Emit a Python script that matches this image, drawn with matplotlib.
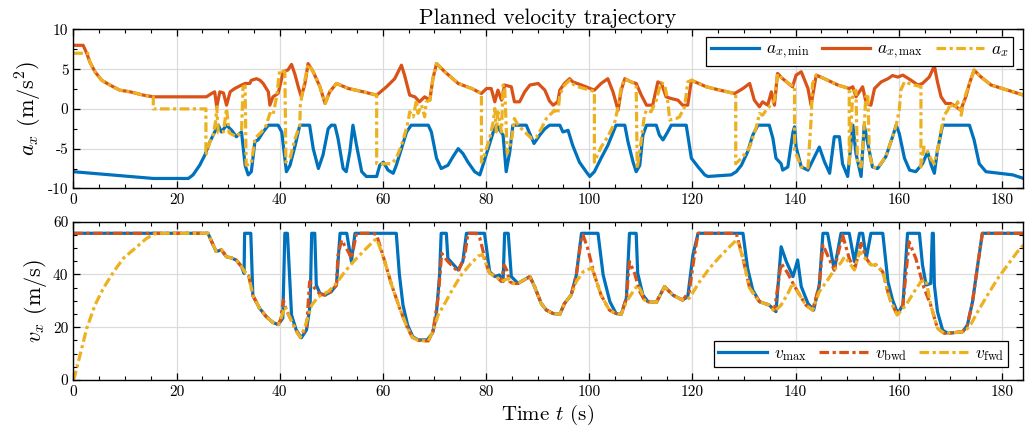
import matplotlib
matplotlib.use("Agg")
import matplotlib.pyplot as plt
from matplotlib.ticker import MultipleLocator

plt.rcParams['font.family'] = 'serif'
plt.rcParams['font.serif'] = ['cmr10']
plt.rcParams['mathtext.fontset'] = 'cm'
plt.rcParams['axes.unicode_minus'] = False
plt.rcParams['axes.formatter.use_mathtext'] = True

# MATLAB default colour order
c_blue = '#0072BD'
c_red = '#D95319'
c_yel = '#EDB120'

# ---- acceleration limits and planned acceleration ----
t_amin = [0, 15.5, 22.3, 23.2, 24.5, 25.5, 26.5, 27.4, 28.1, 28.7, 29.7, 30.7, 31.6, 32.6,
          33.3, 33.9, 34.5, 35.2, 35.8, 36.8, 37.8, 39.7, 40.4, 41.3, 42, 43, 43.9, 44.9,
          45.8, 46.5, 47.5, 48.4, 49.4, 50, 50.7, 51.3, 52.3, 52.9, 53.6, 54.2, 54.9, 55.9,
          56.8, 58.8, 59.4, 60.1, 61, 62, 62.6, 63.6, 64.6, 65.5, 68.8, 69.4, 70.4, 71.3,
          72.6, 73.6, 74.6, 75.5, 76.5, 77.8, 78.8, 79.4, 80.4, 81.4, 82, 83.3, 83.9, 84.6,
          85.2, 87.8, 88.6, 89.3, 90.4, 91.4, 92.3, 94.3, 94.9, 95.9, 96.8, 98.1, 99.4,
          100.1, 101, 102.3, 103.6, 104.9, 105.2, 106.9, 107.5, 108.5, 109.1, 109.8, 110.4,
          111.1, 113, 113.6, 114.3, 115.2, 115.9, 118.8, 119.8, 121.1, 122.4, 123, 127.5,
          128.5, 129.5, 130.7, 131.7, 132.7, 134.9, 135.6, 136.2, 137.2, 137.5, 138.5,
          139.5, 139.8, 140.1, 141.1, 142.4, 143.7, 144.6, 145.6, 146.6, 147.5, 148.5,
          149.1, 150.1, 151.1, 151.7, 152.7, 153.3, 154, 154.9, 155.9, 157.5, 158.8, 159.5,
          160.1, 161.1, 162.1, 163.3, 164.6, 165.6, 166.3, 166.9, 167.5, 168.5, 173.7,
          174.6, 175.6, 176.9, 179.5, 182.1, 184.2]
a_min = [-7.9, -8.75, -8.75, -8.3, -7.08, -5.8, -4.1, -2.9, -2.05, -2.9, -2.05, -2.7, -3.5, -2.9,
         -7.1, -8.3, -7.9, -4.1, -3.9, -2.9, -2.05, -2.05, -2.9, -7.9, -7.1, -4.6, -2.05, -2.05,
         -2.05, -5.0, -7.5, -5.8, -2.5, -2.05, -2.05, -3.7, -7.5, -7.9, -5.4, -2.05, -4.6, -7.9,
         -8.5, -8.5, -7.08, -6.7, -7.7, -8.1, -7.1, -5.0, -2.9, -2.05, -2.05, -2.9, -6.2, -7.5,
         -7.1, -6.0, -5.0, -5.6, -6.7, -7.9, -8.3, -7.08, -5.0, -2.9, -2.05, -3.3, -7.9, -5.4,
         -2.05, -2.05, -3.3, -4.35, -3.3, -2.5, -2.05, -2.05, -2.9, -2.7, -4.6, -6.7, -7.9,
         -8.5, -7.9, -6.2, -4.6, -2.5, -2.05, -2.05, -4.1, -6.7, -7.9, -7.1, -3.3,
         -2.05, -2.05, -3.3, -3.9, -2.9, -2.05, -2.05, -6.2, -7.3, -8.3, -8.5, -8.3,
         -7.9, -7.08, -5.4, -3.3, -2.05, -2.05, -3.7, -6.2, -6.9, -7.7, -7.3,
         -2.9, -2.25, -4.8, -7.3, -7.7, -6.0, -4.8, -6.65, -8.1, -3.5, -3.5,
         -6.9, -8.5, -2.05, -5.6, -8.5, -2.05, -4.35, -7.3, -7.5, -6.0, -3.5, -2.05,
         -3.1, -6.2, -7.7, -7.9, -6.9, -5.4, -7.1, -8.1, -5.2, -2.05, -2.05,
         -3.9, -6.9, -7.9, -8.1, -8.3, -8.75]

t_amax = [0, 1.9, 2.6, 3.2, 4.2, 5.5, 7.1, 9.0, 11, 13.6, 15.5, 25.8, 26.8, 27.4, 27.8, 28.4,
          29.1, 29.7, 30.4, 31.3, 32.6, 33.3, 34.2, 34.5, 35.5, 36.2, 36.8, 37.8, 38.1, 38.7,
          39.7, 40.7, 41.6, 42.3, 43, 43.6, 44.2, 44.9, 45.5, 46.5, 47.8, 48.8, 49.7, 51,
          53.3, 56.2, 58.8, 60.7, 62.3, 63.6, 64.2, 65.2, 66.2, 67.1, 68.1, 69.1, 69.7, 70.4,
          72, 74.6, 77.2, 79.1, 80.1, 81, 81.7, 82.3, 83, 83.6, 84.9, 85.5, 86.5, 87.5, 88.5,
          90.1, 91.4, 92.3, 93, 93.9, 94.3, 95.2, 96.2, 96.8, 98.5, 101, 102.3, 103.6, 104.6,
          105.6, 106.2, 106.9, 108.1, 109.1, 110.1, 111.1, 112.3, 113.3, 114, 114.9, 115.9,
          117.2, 118.1, 119.1, 119.8, 122.7, 125.3, 128.2, 129.8, 131.1, 132, 133, 133.6,
          134.6, 135.3, 135.9, 136.5, 137.5, 139.4, 140.1, 141.1, 142.4, 143, 144, 145.6,
          148.2, 150.4, 151.1, 151.7, 153, 153.7, 154.6, 155.3, 156.6, 157.9, 158.8, 159.8,
          160.8, 162.4, 163.7, 164.6, 165.9, 166.9, 167.5, 168.2, 169.1, 170.1, 171.1, 172,
          173, 173.7, 174.6, 175.9, 177.9, 181.1, 184.2]
a_max = [8.0, 8.0, 7.0, 5.9, 4.67, 3.6, 3.0, 2.36, 2.15, 1.73, 1.52, 1.52, 1.94, 2.15, 0.26, 2.15,
         2.0, 0.47, 2.15, 2.57, 3.0, 3.2, 3.2, 3.6, 3.8, 3.6, 3.2, 2.15, 0.47, 1.52,
         1.94, 4.67, 4.9, 5.6, 4.25, 2.78, 1.52, 3.2, 5.7, 4.67, 2.78, 0.68, 2.15, 3.2,
         2.57, 2.15, 1.73, 2.78, 3.8, 5.5, 4.25, 1.73, 1.52, 0.89, 1.52, 1.1, 3.8, 5.7,
         4.67, 3.2, 2.57, 1.94, 2.57, 2.57, 0.89, 2.36, 1.1, 3.0, 2.78, 0.89, 0.89, 2.15, 3.0,
         3.2, 2.36, 1.0, 0.47, 0.89, 2.36, 3.2, 3.8, 3.4, 3.0, 2.36, 3.2, 3.8, 2.15,
         -0.16, 2.36, 3.8, 3.4, 3.2, 1.73, 0.47, 0.47, 3.4, 3.2, 1.52, 1.3,
         1.1, 0.47, 0.47, 3.6, 2.78, 2.36, 1.94, 2.57, 3.2, 1.1, 0.26, 0.89,
         0.47, 2.15, 0.47, 4.46, 3.8, 2.78, 4.25, 4.67, 2.57, 0.47, 4.25, 3.8,
         3.0, 2.57, 2.78, 1.52, 2.78, 0.68, 0.47, 2.57, 3.4, 3.8, 4.2, 4.0,
         4.25, 3.6, 3.0, 3.2, 4.0, 5.4, 3.4, 1.52, 0.68, 0.68, 0.26, -0.16,
         1.52, 3.2, 4.88, 4.04, 3.0, 2.36, 1.73]

t_ax = [0, 2.8, 3.2, 4.2, 5.5, 7.1, 9.0, 11, 13.6, 15.5, 15.5, 25.7, 25.7, 26.5, 27.1, 27.6, 27.8,
        28.1, 29.1, 29.7, 30.2, 31.6, 32.6, 32.9, 33.3, 33.5, 34.5, 35.2, 36.5, 37.4, 38.1,
        38.7, 39.4, 40, 41, 41.2, 42, 43, 43.9, 44.0, 44.55, 45.5, 46.5, 47.8, 48.8, 49.7,
        51, 53.3, 56.2, 58.8, 58.8, 61.7, 62.6, 63.6, 64.2, 64.9, 65.2, 65.9, 66.5, 66.8,
        67.5, 68.1, 68.4, 69.1, 69.7, 70.4, 72, 74.6, 77.2, 79.1, 79.1, 79.7, 80.7, 81.4,
        81.7, 82, 82.3, 83, 83.3, 83.6, 84.1, 84.9, 85.5, 86.2, 87.5, 88.8, 89.7, 90.7,
        91.7, 92.3, 93.3, 93.9, 94.3, 95.2, 96.2, 97.2, 98.8, 101, 101, 102.3, 103.6, 104.9,
        105.6, 106.2, 106.9, 108.1, 109.1, 109.3, 110.1, 110.7, 111.1, 112, 113, 113.9,
        114.6, 115.2, 115.6, 116.9, 117.5, 118.5, 119.1, 119.8, 122.7, 125.3, 128.4, 128.4,
        129.8, 131.1, 132.4, 133, 133.6, 134.3, 134.9, 135.9, 136.5, 137.5, 139.1, 139.8,
        139.8, 141.1, 142.4, 143, 143.3, 144, 145.6, 148.2, 150.4, 150.4, 150.7, 151.1,
        151.7, 152, 152.7, 153.3, 153.6, 154, 154.3, 154.9, 155.9, 157.5, 158.8, 159.5,
        160.1, 160.4, 161.1, 163, 164.3, 164.3, 164.9, 165.6, 166.3, 166.9, 167.5, 168.2,
        168.8, 169.5, 170.1, 170.8, 171.4, 172.1, 172.7, 173.7, 174.6, 175.9, 177.9, 181.1,
        184.2]
a_x = [7.0, 7.0, 5.9, 4.67, 3.6, 3.0, 2.36, 2.15, 1.73, 1.52, 0.0, 0.0, -5.8, -4.1, -3.3, -1.5, 0.26,
       -3.0, -2.9, 0.05, -3.0, -3.5, -2.9, 2.78, 2.9, -7.08, -6.9, -3.7, -2.9, -2.05, -0.57,
       -0.8, 1.52, 4.88, 4.67, -6.7, -6.2, -3.7, -2.05, 0.47, 2.57, 5.6, 4.67, 2.78, 0.68, 2.15,
       3.2, 2.57, 2.15, 1.73, -6.9, -6.9, -6.2, -4.6, -3.3, -1.6, -0.37, -1.0, 1.1, -0.57,
       0.47, -1.0, 0.89, 1.1, 3.8, 5.7, 4.67, 3.2, 2.57, 1.94, -6.7, -5.8, -3.7, -1.6,
       0.05, -2.9, -0.37, -2.9, 3.0, 3.0, -5.6, -4.1, -1.2, -2.05, -2.9, -3.7, -3.6, -2.5,
       -1.2, -0.8, -0.16, -0.6, 1.8, 3.0, 3.6, 2.9, 2.6, 2.2, -6.7, -4.8, -3.5, -1.8,
       0.27, 2.78, 3.8, 3.4, 3.1, -7.5, -3.9, -0.8, -0.15, -0.36, 1.1, 3.3,
       3.1, 1.1, -1.4, -1.2, -1.0, 0.27, 3.4, 3.6, 2.78, 2.36, 1.9, -6.9,
       -6.0, -4.8, -2.25, -0.57, -0.8, -0.15, 0.27, 1.1, 4.4, 3.8, 3.0, 2.9,
       -5.2, -7.3, -7.4, -1.4, 3.2, 4.25, 3.8, 3.0, 2.57, -6.9, -2.7, 2.15,
       2.36, -6.9, -7.3, -2.25, 1.5, 1.94, -5.6, -7.3, -7.4, -6.0, -3.5, -2.05,
       -0.15, 2.36, 3.4, 3.0, 2.8, -7.3, -4.8, -5.4, -6.4, -6.9, -5.2, -2.7,
       -0.8, -0.15, 0.68, 0.0, 0.9, -0.8, 1.3, 3.2, 4.88, 4.04, 3.0, 2.36,
       1.73]

# ---- velocity limit and backward / forward passes ----
t_vmax = [0, 26.1, 27.1, 27.7, 28.7, 29.7, 30.6, 31.6, 32.6, 33.1, 33.2, 34.4, 34.8, 36.1, 37.4,
          38.7, 39.7, 40.6, 41.0, 41.5, 42.3, 43.2, 44.2, 45.2, 45.9, 46.2, 46.8, 47.1, 47.8,
          48.8, 50, 51, 51.7, 53, 53.9, 54.6, 62.6, 63.2, 63.9, 64.8, 65.8, 66.8, 68.6, 69.6,
          70.3, 71.0, 71.3, 72.3, 72.6, 74.6, 75.5, 76.2, 79.7, 80.7, 81.7, 82.6, 83.3, 83.6,
          84.3, 84.9, 86.2, 86.8, 88.5, 89.4, 90.7, 91.7, 93, 94.3, 95.2, 96.5, 97.5, 98.5,
          101.7, 102.7, 104, 105.2, 106.2, 107.2, 107.8, 109.1, 109.4, 110.4, 111.4, 113,
          114.6, 116.2, 118.1, 119.1, 120.1, 121.1, 129.8, 130.7, 131.7, 133, 134.9, 136.2,
          137.2, 138.2, 139.5, 140.4, 141.1, 142.4, 143.5, 144.6, 145.3, 146.2, 147.5, 148.8,
          150.4, 151.4, 152.4, 153, 153.7, 154.6, 156.9, 157.9, 158.8, 159.8, 160.8, 161.7,
          164, 164.6, 165.3, 166.2, 166.5, 166.7, 166.9, 167.5, 168.5, 169.5, 172.4, 173.3,
          174.3, 175.3, 176.2, 184.2]
v_max = [55.6, 55.6, 51.2, 48.7, 49.3, 46.7, 46.3, 45.4, 43.0, 40.4, 55.6, 55.6, 32.0, 27.2, 24.0,
         21.8, 21.0, 23.4, 55.6, 55.6, 24.6, 19.0, 16.0, 19.0, 28.4, 55.6, 55.6, 36.0, 32.8,
         32.2, 33.5, 36.0, 55.6, 55.6, 44.9, 55.6, 55.6, 40.0, 28.4, 20.8, 16.4, 15.2, 15.2, 17.7,
         23.4, 40.0, 55.6, 55.6, 46.1, 41.7, 44.9, 55.6, 55.6, 41.0, 39.2, 39.8, 37.3, 55.6,
         55.6, 39.2, 36.6, 37.3, 39.2, 35.4, 29.0, 26.5, 25.2, 24.9, 29.0, 32.2, 39.8, 55.6,
         55.6, 39.8, 29.7, 25.2, 24.9, 31.0, 55.6, 55.6, 40.4, 32.2, 29.7, 29.4,
         35.4, 32.2, 30.3, 31.6, 47.4, 55.6, 55.6, 42.3, 34.1, 29.7, 28.4, 25.9,
         50.5, 44.9, 39.2, 45.5, 35.4, 29.0, 26.5, 36.0, 55.6, 55.6, 41.7, 55.6,
         55.6, 44.9, 55.6, 55.6, 46.1, 55.6, 55.6, 37.3, 30.3, 25.2, 28.4, 55.6,
         55.6, 43.6, 36.0, 36.6, 55.6, 55.6, 36.0, 25.9, 18.9, 17.7, 18.3, 20.8,
         29.7, 43.6, 55.6, 55.6]

t_vbwd = [0, 26.1, 27.1, 27.7, 28.7, 29.7, 30.6, 31.6, 32.6, 33.2, 34.0, 34.8, 36.1, 37.4, 38.7,
          39.7, 40.2, 40.7, 41.3, 43.3, 44.0, 45.2, 45.8, 46.5, 47.1, 47.8, 48.8, 50, 51, 51.3,
          52, 53.3, 53.9, 54.9, 58.1, 58.8, 60.2, 61.7, 63.3, 64.6, 65.7, 66.8, 68.8, 69.7,
          70.7, 71.4, 72.6, 74.6, 75.9, 76.5, 78.1, 78.8, 80.1, 80.7, 82, 83, 83.5, 84, 84.6,
          85.2, 86.2, 86.8, 88.5, 89.4, 90.7, 91.7, 93, 94.3, 95.2, 96.5, 97.5, 98.5, 98.8,
          99.7, 101, 102.3, 103.9, 105.2, 106.2, 107.2, 107.8, 108.8, 109.8, 110.7, 111.4,
          113, 114.6, 116.2, 118.1, 119.4, 120.4, 121.1, 128.5, 129.8, 131.1, 133, 134.9,
          135.9, 137.2, 138.5, 139.5, 140.4, 142, 143.3, 144.6, 145.3, 146.6, 147.5, 149.1,
          150.4, 151.4, 152.7, 153.7, 154.6, 155.6, 156.9, 158.2, 159.7, 160.8, 162, 163.3,
          164.9, 166.2, 167.5, 168.8, 169.5, 172.4, 173.3, 174.3, 175.3, 176.2, 184.2]
v_bwd = [55.6, 55.6, 51.2, 48.7, 49.3, 46.7, 46.3, 45.4, 43.0, 41.0, 39.5, 32.0, 27.2, 24.0, 21.8,
         21.0, 23.0, 30.3, 26.5, 18.3, 16.2, 19.6, 37.3, 35.4, 34.1, 32.5, 32.2, 33.5, 36.0, 47.4,
         53.0, 48.6, 46.1, 55.6, 55.6, 55.0, 46.0, 36.0, 27.0, 20.5, 16.2, 15.0, 14.8, 18.3,
         31.0, 48.0, 44.9, 41.0, 47.4, 55.6, 55.6, 53.7, 43.6, 40.4, 39.2, 37.3, 43.6, 41.7, 37.3,
         36.6, 36.6, 37.3, 39.2, 35.4, 29.0, 26.5, 25.2, 24.9, 29.0, 32.2, 39.8, 54.0, 55.0,
         49.9, 39.8, 32.2, 26.5, 25.2, 24.9, 31.0, 44.9, 40.4, 33.5, 30.3, 29.7,
         29.4, 35.4, 32.2, 30.3, 33.5, 47.4, 55.6, 55.6, 46.1, 34.8, 29.7, 28.4,
         26.5, 44.2, 40.4, 36.6, 33.5, 28.4, 26.5, 36.0, 51.2, 45.5, 41.7, 55.0,
         46.1, 41.7, 51.8, 46.1, 43.6, 43.6, 41.0, 31.0, 24.6, 28.4, 52.4, 46.1,
         34.8, 28.4, 19.6, 17.7, 17.7, 18.3, 20.8, 29.7, 43.6, 55.6, 55.6]

t_vfwd = [0, 0.33, 1.3, 2.6, 4.2, 5.8, 7.8, 9.7, 12.3, 14.2, 15.8, 16.5, 26.1, 27.1, 27.7, 28.7,
          29.7, 30.6, 31.6, 32.6, 33.2, 34.0, 34.8, 36.1, 37.4, 38.7, 39.7, 40.2, 41.0, 41.3,
          43.3, 44.0, 44.9, 46.2, 47.5, 49.4, 51, 52.6, 54.6, 56.8, 58.4, 58.8, 60.2, 61.7,
          63.3, 64.6, 65.7, 66.8, 68.8, 69.7, 70.7, 72, 73.6, 75.2, 76.8, 78.5, 79.3, 80.1,
          80.7, 82, 83, 84.3, 85.2, 86.2, 86.8, 88.5, 89.4, 90.7, 91.7, 93, 94.3, 95.2, 96.5,
          97.5, 98.8, 100.5, 101.2, 102.3, 103.9, 105.2, 106.2, 107.2, 108.5, 109.4, 110.1,
          110.7, 111.4, 113, 114.6, 116.2, 118.1, 119.4, 121.4, 123.3, 125.3, 127.2, 128.2,
          128.7, 129.8, 131.1, 133, 134.9, 135.9, 137.2, 138.5, 139.5, 140.4, 142, 143.3,
          144.6, 146.2, 147.5, 148.8, 149.5, 150.4, 151.4, 152.4, 153.7, 154.6, 155.6, 156.9,
          158.2, 159.7, 161.4, 163, 164.3, 165.3, 166.2, 167.5, 168.8, 169.5, 172.4, 173.3,
          174.0, 175.3, 177.2, 179.2, 181.1, 183.0, 184.2]
v_fwd = [0.0, 1.9, 9.5, 19.6, 28.4, 34.7, 41.0, 46.1, 50.5, 53.7, 55.4, 55.6, 55.6, 51.2, 48.7, 49.3,
         46.7, 46.3, 45.4, 43.0, 41.0, 39.5, 32.0, 27.2, 24.0, 21.8, 21.0, 23.0, 27.8, 26.5,
         18.3, 16.2, 20.2, 28.4, 31.6, 33.5, 36.6, 41.0, 45.5, 49.9, 53.0, 53.5, 46.0, 36.0,
         27.0, 20.5, 16.2, 15.0, 14.8, 18.3, 24.6, 29.0, 34.7, 39.8, 43.6, 47.0, 47.5, 43.6,
         40.4, 39.2, 37.3, 38.5, 36.6, 36.6, 37.3, 39.2, 35.4, 29.0, 26.5, 25.2, 24.9, 29.0, 32.2,
         37.3, 41.0, 42.5, 38.5, 32.2, 26.5, 25.2, 24.9, 29.7, 33.5, 36.0, 33.5,
         30.3, 29.7, 29.4, 35.4, 32.2, 30.3, 31.0, 37.3, 42.3, 46.7, 50.5, 52.4,
         53.0, 46.1, 34.8, 29.7, 28.4, 25.9, 28.4, 32.8, 36.8, 33.5, 28.4, 26.5,
         33.5, 37.9, 41.7, 44.5, 46.7, 44.5, 41.7, 48.6, 45.5, 43.6, 43.6, 41.0,
         31.0, 24.6, 28.4, 33.5, 37.3, 37.9, 28.4, 19.6, 17.7, 17.7, 18.3, 19.5,
         21.2, 25.9, 32.2, 38.5, 43.6, 48.6, 51.2]

x_ticks = [0, 20, 40, 60, 80, 100, 120, 140, 160, 180]
a_ticks = [-10, -5, 0, 5, 10]
v_ticks = [0, 20, 40, 60]

dashdot = (0, (3, 1.1, 1, 1.1))
lw = 2.3

fig = plt.figure(figsize=(10.27, 4.41), dpi=100)
ax1 = fig.add_axes([0.0714, 0.5728, 0.9243, 0.3605])
ax2 = fig.add_axes([0.0714, 0.1383, 0.9243, 0.3590])


def style(ax, yticks, yminor):
    ax.set_xlim(0, 184)
    ax.set_xticks(x_ticks)
    ax.set_xticklabels([str(v) for v in x_ticks])
    ax.set_yticks(yticks)
    ax.set_yticklabels([str(v) for v in yticks])
    ax.set_ylim(yticks[0], yticks[-1])
    ax.xaxis.set_minor_locator(MultipleLocator(5))
    ax.yaxis.set_minor_locator(MultipleLocator(yminor))
    ax.tick_params(which='both', direction='in', top=True, right=True, labelsize=11)
    ax.tick_params(which='major', length=5, width=0.9)
    ax.tick_params(which='minor', length=3, width=0.8)
    ax.grid(True, which='major', color='#dcdcdc', linewidth=0.9)
    ax.set_axisbelow(True)
    for s in ax.spines.values():
        s.set_linewidth(1.0)
        s.set_color('black')


def add_legend(ax, loc, anchor):
    leg = ax.legend(loc=loc, bbox_to_anchor=anchor, borderaxespad=0, ncol=3,
                    fontsize=12.5, frameon=True, fancybox=False, framealpha=1,
                    edgecolor='black', handlelength=2.8, columnspacing=0.7,
                    handletextpad=0.4, borderpad=0.25)
    leg.get_frame().set_linewidth(0.9)


# top: acceleration
ax1.plot(t_amin, a_min, color=c_blue, lw=lw, label=r'$a_{x,\mathrm{min}}$')
ax1.plot(t_amax, a_max, color=c_red, lw=lw, label=r'$a_{x,\mathrm{max}}$')
ax1.plot(t_ax, a_x, color=c_yel, lw=lw, ls=dashdot, label=r'$a_x$')
style(ax1, a_ticks, 2.5)
ax1.set_ylabel(r'$a_x$ (m/s$^2$)', fontsize=16, labelpad=3)
ax1.set_title('Planned velocity trajectory', fontsize=15.5, pad=4)
add_legend(ax1, 'upper right', (0.990, 0.952))

# bottom: velocity
ax2.plot(t_vmax, v_max, color=c_blue, lw=lw, label=r'$v_{\mathrm{max}}$')
ax2.plot(t_vbwd, v_bwd, color=c_red, lw=lw, ls=dashdot, label=r'$v_{\mathrm{bwd}}$')
ax2.plot(t_vfwd, v_fwd, color=c_yel, lw=lw, ls=dashdot, label=r'$v_{\mathrm{fwd}}$')
style(ax2, v_ticks, 5)
ax2.set_ylabel(r'$v_x$ (m/s)', fontsize=16, labelpad=3)
ax2.set_xlabel(r'Time $t$ (s)', fontsize=15, labelpad=3)
add_legend(ax2, 'lower right', (0.985, 0.082))

fig.savefig('out.png', dpi=100)
